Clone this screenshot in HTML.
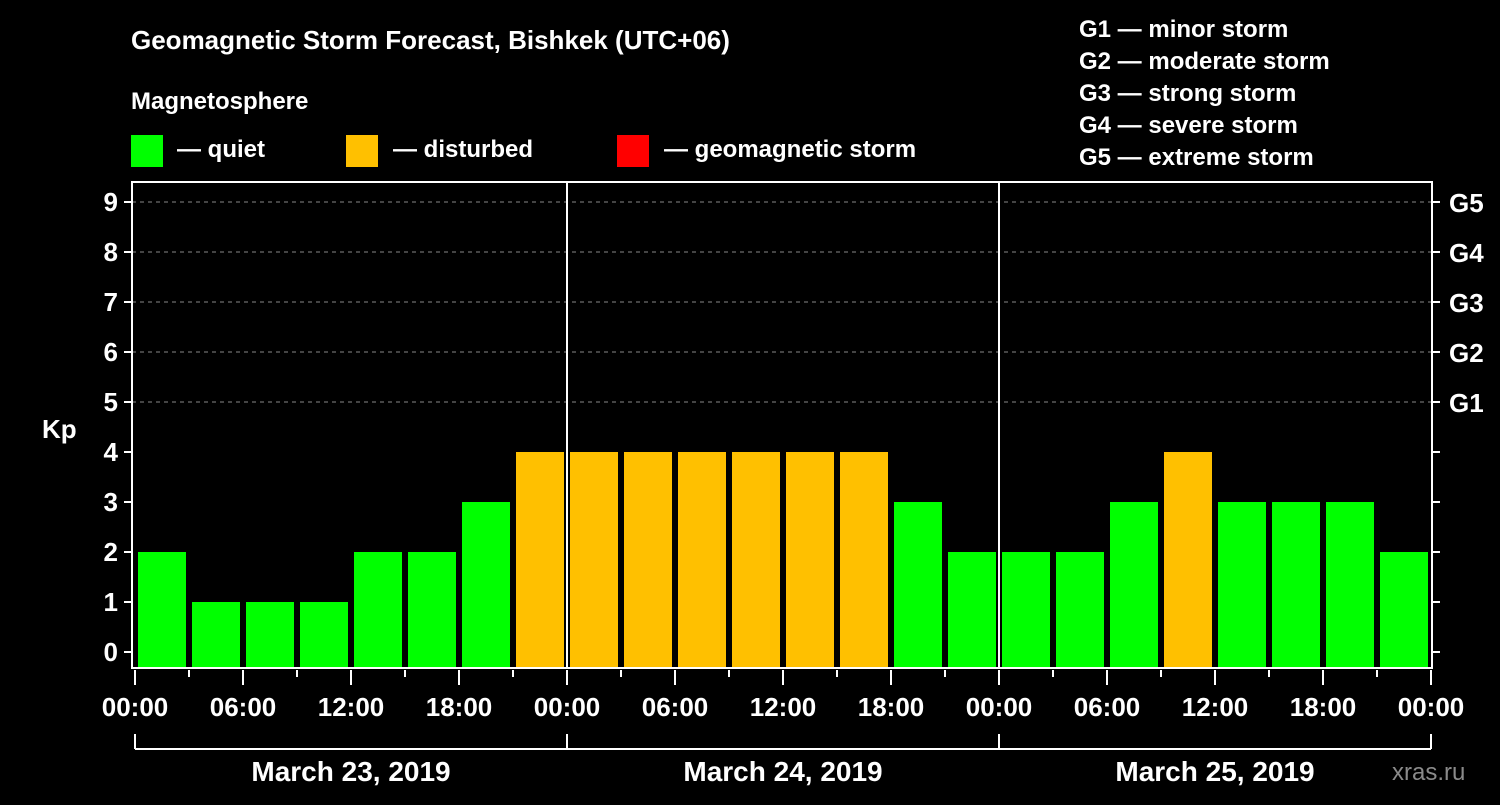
<!DOCTYPE html>
<html><head><meta charset="utf-8"><style>
body{margin:0;background:#000;}
svg text{font-family:"Liberation Sans",Arial,sans-serif;font-weight:bold;fill:#fff;}
</style></head><body>
<svg id="c" width="1500" height="800" xmlns="http://www.w3.org/2000/svg">
<rect width="1500" height="800" fill="#000"/>
<text x="131" y="49" font-size="26">Geomagnetic Storm Forecast, Bishkek (UTC+06)</text>
<text x="131" y="109" font-size="24">Magnetosphere</text>
<g><rect x="131" y="135" width="32" height="32" fill="#00ff00"/><text x="177" y="157" font-size="24">— quiet</text></g>
<g><rect x="346" y="135" width="32" height="32" fill="#ffc000"/><text x="393" y="157" font-size="24">— disturbed</text></g>
<g><rect x="617" y="135" width="32" height="32" fill="#ff0000"/><text x="664" y="157" font-size="24">— geomagnetic storm</text></g>
<g font-size="24">
<text x="1079" y="37">G1 — minor storm</text>
<text x="1079" y="69">G2 — moderate storm</text>
<text x="1079" y="101">G3 — strong storm</text>
<text x="1079" y="133">G4 — severe storm</text>
<text x="1079" y="165">G5 — extreme storm</text>
</g>
<text x="42" y="438" font-size="26">Kp</text>
<text x="1392" y="780" font-size="24" fill="#888" style="fill:#8a8a8a;font-weight:normal">xras.ru</text>
<g id="g"></g>
</svg>
<script>
const values=[2,1,1,1,2,2,3,4, 4,4,4,4,4,4,3,2, 2,2,3,4,3,3,3,2];
const hourLabels=["00:00","06:00","12:00","18:00","00:00","06:00","12:00","18:00","00:00","06:00","12:00","18:00","00:00"];
const dayLabels=["March 23, 2019","March 24, 2019","March 25, 2019"];
const yTicks=[0,1,2,3,4,5,6,7,8,9];
const gLabels=["G1","G2","G3","G4","G5"];
const NS="http://www.w3.org/2000/svg";
const g=document.getElementById('g');
const X0=135,SLOT=54,Y0=652,UNIT=50,TOP=182,BOT=668,LEFT=132,RIGHT=1432;
const sx=i=>X0+SLOT*i, sy=v=>Y0-UNIT*v;
function mk(t,a,p){const e=document.createElementNS(NS,t);for(const k in a)e.setAttribute(k,a[k]);(p||g).appendChild(e);return e;}
// grid
for(let v=5;v<=9;v++){const l=mk('line',{x1:LEFT,x2:RIGHT,y1:sy(v),y2:sy(v),stroke:'#888','stroke-dasharray':'4,4'});

}
// bars
values.forEach((v,i)=>{const c=v>=5?'#ff0000':v>=4?'#ffc000':'#00ff00';
const r=mk('rect',{x:sx(i)+3,y:sy(v),width:48,height:BOT-sy(v),fill:c});

});
// day separators
[8,16].forEach(i=>{const l=mk('line',{x1:sx(i),x2:sx(i),y1:TOP,y2:BOT,stroke:'#fff','stroke-width':2});

});
// frame
const f=mk('rect',{x:LEFT,y:TOP,width:RIGHT-LEFT,height:BOT-TOP,fill:'none',stroke:'#fff','stroke-width':2});


// y ticks
yTicks.forEach(v=>{mk('line',{x1:LEFT-8,x2:LEFT,y1:sy(v),y2:sy(v),stroke:'#fff','stroke-width':2});
mk('line',{x1:RIGHT,x2:RIGHT+8,y1:sy(v),y2:sy(v),stroke:'#fff','stroke-width':2});
const t=mk('text',{x:LEFT-14,y:sy(v)+9,'font-size':26,'text-anchor':'end'});t.textContent=v;

});
gLabels.forEach((s,k)=>{const t=mk('text',{x:1449,y:sy(5+k)+10,'font-size':26});t.textContent=s;

});
// x ticks
for(let i=0;i<=24;i++){const maj=i%2==0;mk('line',{x1:sx(i),x2:sx(i),y1:BOT+2,y2:maj?685:677,stroke:'#fff','stroke-width':2});}
hourLabels.forEach((s,k)=>{const t=mk('text',{x:sx(2*k),y:716,'font-size':26,'text-anchor':'middle'});t.textContent=s;

});
// date brackets
mk('line',{x1:sx(0),x2:sx(24),y1:749,y2:749,stroke:'#fff','stroke-width':2});
for(let d=0;d<=3;d++)mk('line',{x1:sx(8*d),x2:sx(8*d),y1:734,y2:749,stroke:'#fff','stroke-width':2});
dayLabels.forEach((s,d)=>{const t=mk('text',{x:sx(8*d+4),y:781,'font-size':28,'text-anchor':'middle'});t.textContent=s;

});
</script>
</body></html>
